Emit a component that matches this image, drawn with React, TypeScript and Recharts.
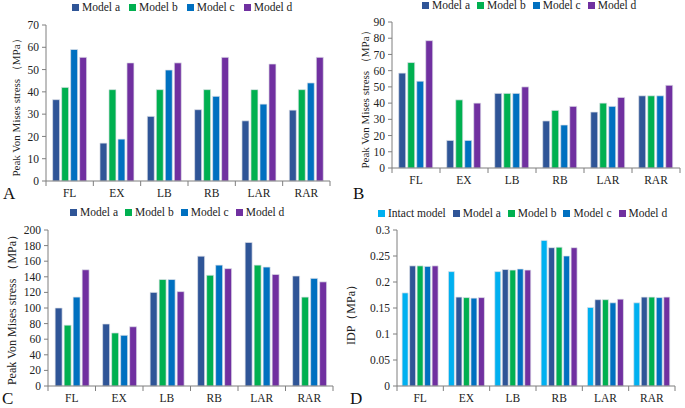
import React from 'react';
import { BarChart, Bar, XAxis, YAxis, Legend } from 'recharts';

const CATEGORIES = ['FL', 'EX', 'LB', 'RB', 'LAR', 'RAR'];

// Panel A
const A_MODEL_A = [36.5, 17, 29, 32, 27, 31.8];
const A_MODEL_B = [42, 41, 41, 41, 41, 41];
const A_MODEL_C = [59, 18.8, 49.8, 38, 34.5, 44];
const A_MODEL_D = [55.5, 53, 53, 55.5, 52.5, 55.5];

// Panel B
const B_MODEL_A = [58.5, 17, 46, 29, 34.5, 44.5];
const B_MODEL_B = [65, 42, 46, 35.5, 40, 44.5];
const B_MODEL_C = [53.5, 17, 46, 26.5, 38, 44.5];
const B_MODEL_D = [78.5, 40, 50, 38, 43.5, 51];

// Panel C
const C_MODEL_A = [100, 79.5, 120, 166.5, 184, 141];
const C_MODEL_B = [78, 68, 136.5, 142, 155, 114];
const C_MODEL_C = [114, 65, 136.5, 155, 152.5, 138];
const C_MODEL_D = [149, 76, 121, 150.5, 143, 133.5];

// Panel D
const D_INTACT = [0.179, 0.22, 0.22, 0.28, 0.151, 0.16];
const D_MODEL_A = [0.231, 0.171, 0.224, 0.266, 0.166, 0.171];
const D_MODEL_B = [0.231, 0.17, 0.223, 0.267, 0.166, 0.171];
const D_MODEL_C = [0.23, 0.169, 0.225, 0.25, 0.16, 0.17];
const D_MODEL_D = [0.231, 0.17, 0.223, 0.266, 0.167, 0.171];

const TICKS_A = [0, 10, 20, 30, 40, 50, 60, 70];
const TICKS_B = [0, 10, 20, 30, 40, 50, 60, 70, 80, 90];
const TICKS_C = [0, 20, 40, 60, 80, 100, 120, 140, 160, 180, 200];
const TICKS_D = [0, 0.05, 0.1, 0.15, 0.2, 0.25, 0.3];

const FONT = '"Liberation Serif", "Times New Roman", serif';
const AXIS = '#7f7f7f';

const SERIES_4 = [
  { key: 'a', name: 'Model a', color: '#2f5597' },
  { key: 'b', name: 'Model b', color: '#00b050' },
  { key: 'c', name: 'Model c', color: '#0070c0' },
  { key: 'd', name: 'Model d', color: '#7030a0' },
];
const SERIES_5 = [{ key: 'i', name: 'Intact model', color: '#00b0f0' }, ...SERIES_4];

const rows = (cols: Record<string, number[]>) =>
  CATEGORIES.map((cat, i) => {
    const r: Record<string, string | number> = { cat };
    Object.keys(cols).forEach(k => { r[k] = cols[k][i]; });
    return r;
  });

const dataA = rows({ a: A_MODEL_A, b: A_MODEL_B, c: A_MODEL_C, d: A_MODEL_D });
const dataB = rows({ a: B_MODEL_A, b: B_MODEL_B, c: B_MODEL_C, d: B_MODEL_D });
const dataC = rows({ a: C_MODEL_A, b: C_MODEL_B, c: C_MODEL_C, d: C_MODEL_D });
const dataD = rows({ i: D_INTACT, a: D_MODEL_A, b: D_MODEL_B, c: D_MODEL_C, d: D_MODEL_D });

const CatTick = (props: any) => {
  const { x, y, payload, index, bw, n } = props;
  return (
    <g>
      <line x1={x - bw / 2} y1={y} x2={x - bw / 2} y2={y + 5} stroke={AXIS} />
      {index === n - 1 && <line x1={x + bw / 2} y1={y} x2={x + bw / 2} y2={y + 5} stroke={AXIS} />}
      <text x={x} y={y + 16} textAnchor="middle" fontSize={11.5} fill="#222" fontFamily={FONT}>
        {payload.value}
      </text>
    </g>
  );
};

// square swatch + label, Excel-like spacing
const legendContent = (gap: number) => (props: any) => (
  <div style={{ display: 'flex', whiteSpace: 'nowrap', fontFamily: FONT, fontSize: 11.5, lineHeight: '12px', color: '#222' }}>
    {(props.payload || []).map((e: any) => (
      <span key={e.value} style={{ display: 'inline-flex', alignItems: 'center', marginRight: gap }}>
        <span style={{ display: 'inline-block', width: 7, height: 7, background: e.color, marginRight: 3 }} />
        {e.value}
      </span>
    ))}
  </div>
);

interface PanelProps {
  left: number;
  top: number;
  width: number;
  height: number;
  margin: { top: number; right: number; bottom: number; left: number };
  data: Record<string, string | number>[];
  series: { key: string; name: string; color: string }[];
  ticks: number[];
  catGap: string;
  barGap: number;
  legendLeft: number;
  legendTop: number;
  legendGap: number;
}

const Panel: React.FC<PanelProps> = ({ left, top, width, height, margin, data, series, ticks, catGap, barGap, legendLeft, legendTop, legendGap }) => {
  const bw = (width - margin.left - margin.right - 30) / CATEGORIES.length;
  return (
    <div style={{ position: 'absolute', left, top, fontFamily: FONT }}>
      <BarChart width={width} height={height} data={data} margin={margin} barCategoryGap={catGap} barGap={barGap} style={{ fontFamily: FONT }}>
        <XAxis
          dataKey="cat"
          height={20}
          stroke={AXIS}
          tickLine={false}
          tickSize={0}
          tickMargin={0}
          interval={0}
          tick={(p: any) => <CatTick {...p} bw={bw} n={CATEGORIES.length} />}
        />
        <YAxis
          width={30}
          domain={[ticks[0], ticks[ticks.length - 1]]}
          ticks={ticks}
          interval={0}
          stroke={AXIS}
          tickSize={4}
          tickMargin={3}
          tick={{ fontSize: 11.5, fill: '#222', fontFamily: FONT }}
        />
        <Legend
          align="left"
          verticalAlign="top"
          content={legendContent(legendGap)}
          wrapperStyle={{ left: legendLeft, top: legendTop, width: 'auto', height: 0, overflow: 'visible' }}
        />
        {series.map(s => (
          <Bar
            key={s.key}
            dataKey={s.key}
            name={s.name}
            fill={s.color}
            stroke="#dfe3ea"
            strokeWidth={0.7}
            isAnimationActive={false}
          />
        ))}
      </BarChart>
    </div>
  );
};

const label = (text: string, cx: number, cy: number, size: number) => (
  <div
    style={{
      position: 'absolute',
      left: cx,
      top: cy,
      transform: 'translate(-50%, -50%) rotate(-90deg)',
      whiteSpace: 'nowrap',
      fontFamily: FONT,
      fontSize: size,
      color: '#222',
    }}
  >
    {text}
  </div>
);

const letter = (text: string, x: number, y: number) => (
  <div style={{ position: 'absolute', left: x, top: y, fontFamily: FONT, fontSize: 17, color: '#111', lineHeight: '14px' }}>{text}</div>
);

export default function App() {
  return (
    <div style={{ position: 'absolute', left: 0, top: 0, width: 685, height: 408, background: '#fff', overflow: 'hidden', fontFamily: FONT }}>
      <Panel left={0} top={0} width={340} height={205} margin={{ top: 25, right: 10, bottom: 4, left: 16 }}
        data={dataA} series={SERIES_4} ticks={TICKS_A} catGap="14%" barGap={2}
        legendLeft={72} legendTop={1} legendGap={9} />
      <Panel left={340} top={0} width={345} height={205} margin={{ top: 22, right: 5, bottom: 17, left: 22 }}
        data={dataB} series={SERIES_4} ticks={TICKS_B} catGap="14%" barGap={2}
        legendLeft={82} legendTop={-1} legendGap={7} />
      <Panel left={0} top={205} width={340} height={203} margin={{ top: 25, right: 7, bottom: 2, left: 18 }}
        data={dataC} series={SERIES_4} ticks={TICKS_C} catGap="15%" barGap={2}
        legendLeft={70} legendTop={1} legendGap={7} />
      <Panel left={340} top={205} width={345} height={203} margin={{ top: 25, right: 10, bottom: 2, left: 27 }}
        data={dataD} series={SERIES_5} ticks={TICKS_D} catGap="11%" barGap={1.5}
        legendLeft={38} legendTop={2} legendGap={7} />

      {label('Peak Von Mises stress （MPa）', 16, 105, 11)}
      {label('Peak Von Mises stress （MPa）', 365, 97, 11)}
      {label('Peak Von Mises stress （MPa）', 12, 307, 12)}
      {label('IDP（MPa）', 351, 312, 12)}

      {letter('A', 3, 187)}
      {letter('B', 353, 187)}
      {letter('C', 2, 392)}
      {letter('D', 350, 392)}
    </div>
  );
}
